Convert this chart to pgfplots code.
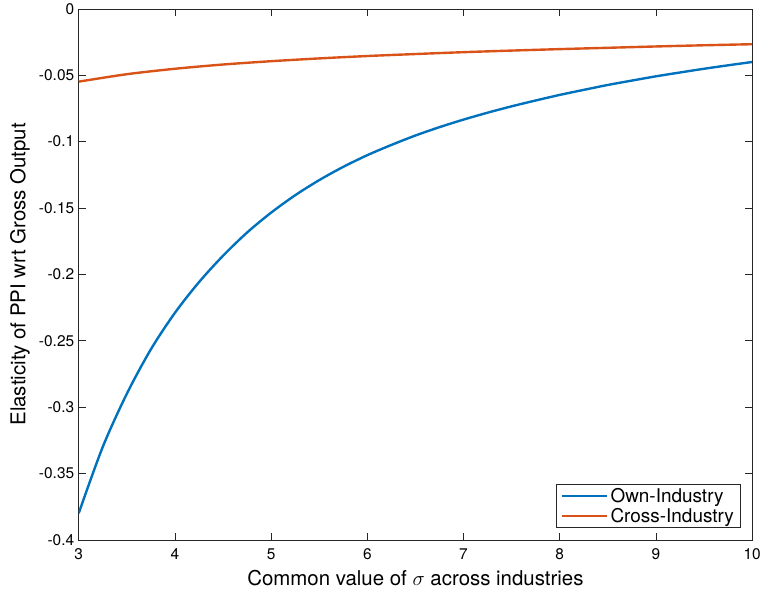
\documentclass[border=0pt]{standalone}
\usepackage{pgfplots}
\pgfplotsset{compat=1.18}
\usepackage{fontspec}
\setmainfont{TeX Gyre Heros}
\definecolor{mblue}{rgb}{0,0.447,0.741}
\definecolor{morange}{rgb}{0.85,0.325,0.098}
\definecolor{axgray}{rgb}{0.15,0.15,0.15}
\begin{document}
\begin{tikzpicture}
\begin{axis}[
  scale only axis,
  width=676pt, height=533pt,
  xmin=3, xmax=10, ymin=-0.4, ymax=0,
  xtick={3,4,5,6,7,8,9,10},
  ytick={-0.4,-0.35,-0.3,-0.25,-0.2,-0.15,-0.1,-0.05,0},
  tick align=inside,
  major tick length=7pt,
  axis line style={axgray, line width=0.6pt},
  tick style={axgray, line width=0.6pt},
  every tick label/.append style={font=\fontsize{15.5}{18}\selectfont, text=black},
  /pgf/number format/assume math mode=true,
  yticklabel style={/pgf/number format/fixed, /pgf/number format/precision=2, xshift=-1pt},
  xticklabel style={yshift=-5pt},
  every axis y label/.style={at={(axis description cs:-0.0873,0.5)}, rotate=90, anchor=center},
  every axis x label/.style={at={(axis description cs:0.5,-0.0713)}, anchor=center},
  xlabel={\fontsize{20.5}{24}\selectfont Common value of $\sigma$ across industries},
  ylabel={\fontsize{20.5}{24}\selectfont Elasticity of PPI wrt Gross Output},
  legend style={at={(axis cs:9.876,-0.391)}, anchor=south east, draw=axgray, line width=0.6pt,
    font=\fontsize{19}{23}\selectfont, row sep=0pt, inner xsep=4pt, inner ysep=2pt},
  legend cell align=left,
  legend image code/.code={\draw[#1, line width=2.4pt] (0pt,0pt) -- (46pt,0pt);},
]
\addplot[mblue, line width=2.4pt, smooth] coordinates {
(3,-0.380) (3.25,-0.330) (3.5,-0.290) (3.75,-0.2565) (4,-0.229) (4.25,-0.2059)
(4.5,-0.186) (4.75,-0.1685) (5,-0.1535) (5.25,-0.1404) (5.5,-0.129) (5.75,-0.119)
(6,-0.1102) (6.25,-0.1025) (6.5,-0.0954) (6.75,-0.0891) (7,-0.0834) (7.25,-0.0782)
(7.5,-0.0734) (7.75,-0.0690) (8,-0.0648) (8.25,-0.0610) (8.5,-0.0573) (8.75,-0.0540)
(9,-0.0508) (9.25,-0.0479) (9.5,-0.0451) (9.75,-0.0425) (10,-0.0400)};
\addlegendentry{Own-Industry}
\addplot[morange, line width=2.4pt, smooth] coordinates {
(3,-0.0548) (3.5,-0.0492) (4,-0.0451) (4.5,-0.0419) (5,-0.0394) (5.5,-0.0373)
(6,-0.0355) (6.5,-0.0340) (7,-0.0326) (7.5,-0.0314) (8,-0.0303) (8.5,-0.0293)
(9,-0.0283) (9.5,-0.0274) (10,-0.0266)};
\addlegendentry{Cross-Industry}
\end{axis}
\path[use as bounding box] (-79pt,-57pt) rectangle (685pt,540pt);
\end{tikzpicture}
\end{document}
